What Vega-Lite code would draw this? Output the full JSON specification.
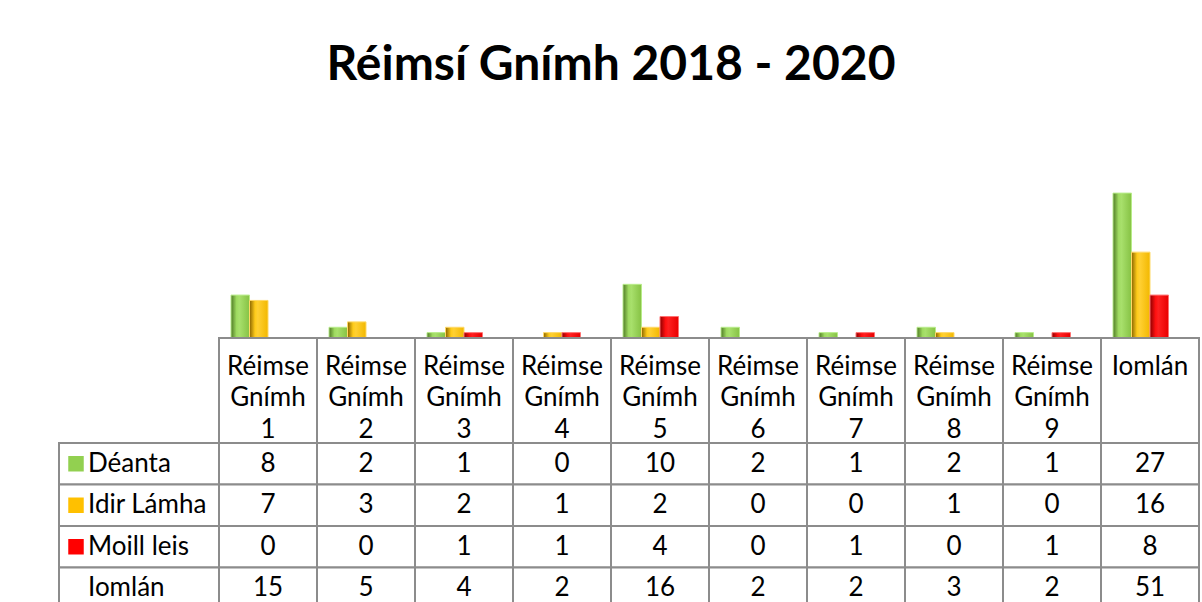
{
  "$schema": "https://vega.github.io/schema/vega-lite/v6.json",
  "background": "white",
  "padding": {"left": 58, "top": 42, "right": 0, "bottom": 0},
  "bounds": "flush",
  "align": "each",
  "columns": 2,
  "spacing": 0,
  "title": {"text": "Réimsí Gnímh 2018 - 2020", "font": "Lato", "fontSize": 48, "fontWeight": "bold", "color": "black", "anchor": "middle", "offset": 87, "dx": -18},
  "config": {"view": {"stroke": null}, "font": "Lato"},
  "datasets": {
    "t": [
      {"cat": "Réimse Gnímh 1", "series": "Déanta", "value": 8},
      {"cat": "Réimse Gnímh 2", "series": "Déanta", "value": 2},
      {"cat": "Réimse Gnímh 3", "series": "Déanta", "value": 1},
      {"cat": "Réimse Gnímh 4", "series": "Déanta", "value": 0},
      {"cat": "Réimse Gnímh 5", "series": "Déanta", "value": 10},
      {"cat": "Réimse Gnímh 6", "series": "Déanta", "value": 2},
      {"cat": "Réimse Gnímh 7", "series": "Déanta", "value": 1},
      {"cat": "Réimse Gnímh 8", "series": "Déanta", "value": 2},
      {"cat": "Réimse Gnímh 9", "series": "Déanta", "value": 1},
      {"cat": "Iomlán", "series": "Déanta", "value": 27},
      {"cat": "Réimse Gnímh 1", "series": "Idir Lámha", "value": 7},
      {"cat": "Réimse Gnímh 2", "series": "Idir Lámha", "value": 3},
      {"cat": "Réimse Gnímh 3", "series": "Idir Lámha", "value": 2},
      {"cat": "Réimse Gnímh 4", "series": "Idir Lámha", "value": 1},
      {"cat": "Réimse Gnímh 5", "series": "Idir Lámha", "value": 2},
      {"cat": "Réimse Gnímh 6", "series": "Idir Lámha", "value": 0},
      {"cat": "Réimse Gnímh 7", "series": "Idir Lámha", "value": 0},
      {"cat": "Réimse Gnímh 8", "series": "Idir Lámha", "value": 1},
      {"cat": "Réimse Gnímh 9", "series": "Idir Lámha", "value": 0},
      {"cat": "Iomlán", "series": "Idir Lámha", "value": 16},
      {"cat": "Réimse Gnímh 1", "series": "Moill leis", "value": 0},
      {"cat": "Réimse Gnímh 2", "series": "Moill leis", "value": 0},
      {"cat": "Réimse Gnímh 3", "series": "Moill leis", "value": 1},
      {"cat": "Réimse Gnímh 4", "series": "Moill leis", "value": 1},
      {"cat": "Réimse Gnímh 5", "series": "Moill leis", "value": 4},
      {"cat": "Réimse Gnímh 6", "series": "Moill leis", "value": 0},
      {"cat": "Réimse Gnímh 7", "series": "Moill leis", "value": 1},
      {"cat": "Réimse Gnímh 8", "series": "Moill leis", "value": 0},
      {"cat": "Réimse Gnímh 9", "series": "Moill leis", "value": 1},
      {"cat": "Iomlán", "series": "Moill leis", "value": 8},
      {"cat": "Réimse Gnímh 1", "series": "Iomlán", "value": 15},
      {"cat": "Réimse Gnímh 2", "series": "Iomlán", "value": 5},
      {"cat": "Réimse Gnímh 3", "series": "Iomlán", "value": 4},
      {"cat": "Réimse Gnímh 4", "series": "Iomlán", "value": 2},
      {"cat": "Réimse Gnímh 5", "series": "Iomlán", "value": 16},
      {"cat": "Réimse Gnímh 6", "series": "Iomlán", "value": 2},
      {"cat": "Réimse Gnímh 7", "series": "Iomlán", "value": 2},
      {"cat": "Réimse Gnímh 8", "series": "Iomlán", "value": 3},
      {"cat": "Réimse Gnímh 9", "series": "Iomlán", "value": 2},
      {"cat": "Iomlán", "series": "Iomlán", "value": 51}
    ],
    "legend": [
      {"series": "Déanta", "swatch": "#92D050"},
      {"series": "Idir Lámha", "swatch": "#FFC000"},
      {"series": "Moill leis", "swatch": "#FF0000"},
      {"series": "Iomlán", "swatch": null}
    ]
  },
  "concat": [
    {"width": 160, "height": 161, "data": {"values": []}, "mark": "text", "encoding": {}},
    {
      "width": 980,
      "height": 161,
      "data": {"name": "t"},
      "transform": [{"filter": "datum.value > 0"}],
      "encoding": {
        "x": {"field": "cat", "type": "nominal", "axis": null,
              "scale": {"domain": ["Réimse Gnímh 1", "Réimse Gnímh 2", "Réimse Gnímh 3", "Réimse Gnímh 4", "Réimse Gnímh 5", "Réimse Gnímh 6", "Réimse Gnímh 7", "Réimse Gnímh 8", "Réimse Gnímh 9", "Iomlán"], "paddingInner": 0, "paddingOuter": 0}},
        "xOffset": {"field": "series", "type": "nominal",
              "scale": {"domain": ["Déanta", "Idir Lámha", "Moill leis", "Iomlán"], "paddingInner": 0, "paddingOuter": 0.649}},
        "y": {"field": "value", "type": "quantitative", "axis": null, "scale": {"domain": [0, 30], "nice": false}}
      },
      "layer": [
        {
          "transform": [{"filter": "datum.series === 'Déanta'"}],
          "mark": {"type": "bar", "strokeWidth": 1, "stroke": "#b8ec8a",
            "color": {"gradient": "linear", "x1": 0, "y1": 0, "x2": 1, "y2": 0,
              "stops": [{"offset": 0, "color": "#4f7a25"}, {"offset": 0.3, "color": "#9fdb60"}, {"offset": 0.45, "color": "#a8e06c"}, {"offset": 1, "color": "#86c244"}]}}
        },
        {
          "transform": [{"filter": "datum.series === 'Idir Lámha'"}],
          "mark": {"type": "bar", "strokeWidth": 1, "stroke": "#ffd966",
            "color": {"gradient": "linear", "x1": 0, "y1": 0, "x2": 1, "y2": 0,
              "stops": [{"offset": 0, "color": "#8a6400"}, {"offset": 0.3, "color": "#ffcc1a"}, {"offset": 0.45, "color": "#ffd033"}, {"offset": 1, "color": "#f2b800"}]}}
        },
        {
          "transform": [{"filter": "datum.series === 'Moill leis'"}],
          "mark": {"type": "bar", "strokeWidth": 1, "stroke": "#ff7070",
            "color": {"gradient": "linear", "x1": 0, "y1": 0, "x2": 1, "y2": 0,
              "stops": [{"offset": 0, "color": "#8c0000"}, {"offset": 0.3, "color": "#ff1010"}, {"offset": 0.45, "color": "#ff2020"}, {"offset": 1, "color": "#e80000"}]}}
        }
      ]
    },
    {"width": 160, "height": 105, "data": {"values": []}, "mark": "text", "encoding": {}},
    {
      "width": 980,
      "height": 105,
      "data": {"name": "t"},
      "transform": [{"filter": "datum.series === 'Déanta'"}],
      "encoding": {
        "x": {"field": "cat", "type": "nominal", "sort": null, "axis": null,
              "scale": {"paddingInner": 0, "paddingOuter": 0}}
      },
      "layer": [
        {"mark": {"type": "rect", "fill": "white", "stroke": "#8c8c8c", "strokeWidth": 2}},
        {"mark": {"type": "text", "font": "Lato", "fontSize": 26, "color": "black", "baseline": "top", "lineBreak": " ", "lineHeight": 31.5, "dy": -37},
         "encoding": {"text": {"field": "cat"}}}
      ]
    },
    {
      "width": 160,
      "height": 166,
      "data": {"name": "legend"},
      "encoding": {
        "y": {"field": "series", "type": "nominal", "sort": null, "axis": null,
              "scale": {"paddingInner": 0, "paddingOuter": 0}}
      },
      "layer": [
        {"mark": {"type": "rect", "fill": "white", "stroke": "#8c8c8c", "strokeWidth": 2}},
        {"transform": [{"filter": "datum.swatch != null"}],
         "mark": {"type": "point", "shape": "square", "filled": true, "size": 240, "opacity": 1},
         "encoding": {"color": {"field": "swatch", "type": "nominal", "scale": null}, "xOffset": {"value": -63}}},
        {"mark": {"type": "text", "font": "Lato", "fontSize": 26, "color": "black", "align": "left", "baseline": "middle", "dx": -51},
         "encoding": {"text": {"field": "series"}}}
      ]
    },
    {
      "width": 980,
      "height": 166,
      "data": {"name": "t"},
      "encoding": {
        "x": {"field": "cat", "type": "nominal", "sort": null, "axis": null,
              "scale": {"paddingInner": 0, "paddingOuter": 0}},
        "y": {"field": "series", "type": "nominal", "sort": null, "axis": null,
              "scale": {"paddingInner": 0, "paddingOuter": 0}}
      },
      "layer": [
        {"mark": {"type": "rect", "fill": "white", "stroke": "#8c8c8c", "strokeWidth": 2}},
        {"mark": {"type": "text", "font": "Lato", "fontSize": 26, "color": "black", "baseline": "middle"},
         "encoding": {"text": {"field": "value", "type": "quantitative"}}}
      ]
    }
  ]
}
